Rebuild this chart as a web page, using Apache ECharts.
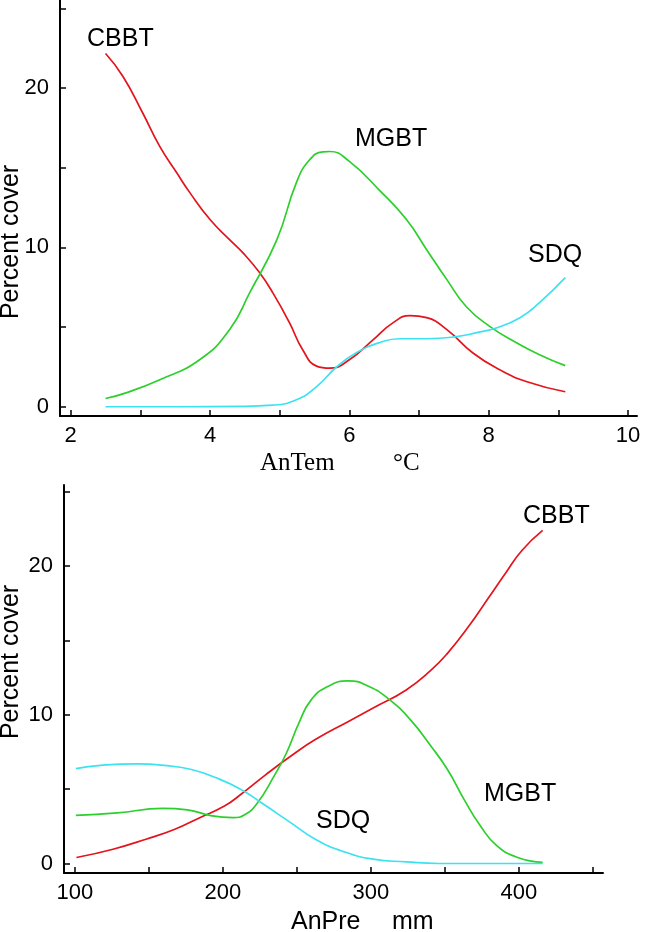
<!DOCTYPE html>
<html><head><meta charset="utf-8">
<script src="https://cdn.jsdelivr.net/npm/echarts@6/dist/echarts.min.js"></script>
<style>html,body{margin:0;padding:0;background:#fff}#c{width:650px;height:932px}</style>
</head><body><div id="c"></div>
<script>
// ---- Top panel: annual temperature (AnTem, °C) ----
const temCBBT_x = [2.50,2.75,3.03,3.28,3.52,3.71,4.00,4.28,4.47,4.71,4.90,5.14,5.33,5.53,5.72,6.00,6.34,6.63,6.87,7.11,7.40,7.77,8.16,8.55,9.10];
const temCBBT_y = [22.17,20.73,18.47,16.33,14.70,13.44,11.75,10.49,9.67,8.42,7.16,5.28,3.58,2.55,2.42,2.95,4.2,5.28,5.72,5.59,4.84,3.39,2.32,1.57,0.94];
const temMGBT_x = [2.50,2.77,3.28,3.85,4.28,4.57,4.96,5.24,5.43,5.62,5.72,6.00,6.43,6.82,7.11,7.40,7.68,8.02,8.40,8.73,9.10];
const temMGBT_y = [0.52,0.84,1.70,2.95,4.84,7.16,10.49,14.07,15.5,16.0,16.02,15.4,13.6,11.75,9.86,7.98,6.28,5.03,4.02,3.27,2.58];
const temSDQ_x = [2.50,3.5,4.43,4.90,5.24,5.53,5.82,6.10,6.43,6.72,7.11,7.54,7.83,8.12,8.45,8.73,9.10];
const temSDQ_y = [0,0,0.02,0.1,0.44,1.26,2.51,3.39,4.02,4.27,4.27,4.4,4.65,4.96,5.59,6.53,8.1];
const temTicks = [2,3,4,5,6,7,8,9,10];
const temLabels = [2,4,6,8,10];

// ---- Bottom panel: annual precipitation (AnPre, mm) ----
const preCBBT_x = [101,125.7,148,167.5,184.3,201,212,229,245.7,262.4,284.8,301.5,323.8,340.6,351.7,365.7,379.7,390.8,402,416];
const preCBBT_y = [0.4,0.96,1.63,2.3,3.08,3.86,4.64,5.98,7.21,8.33,9.55,10.45,11.67,13.0,14.13,15.9,17.9,19.5,21.05,22.4];
const preMGBT_x = [100.6,128.5,159.2,176,192.7,206.6,215,223.4,234.5,242.9,251.3,259.6,270.8,284.8,298.7,312.7,326.6,340.6,351.7,362.9,374,385.2,399.2,416];
const preMGBT_y = [3.24,3.4,3.7,3.6,3.2,3.08,3.3,4.08,5.87,7.43,9.44,11.0,11.9,12.28,11.9,11.0,9.67,7.88,6.32,4.31,2.52,1.18,0.4,0.07];
const preSDQ_x = [100.6,117.3,142.4,162,178.7,195.4,212.2,226,245.7,262.4,282,301.5,323.8,346,380,416];
const preSDQ_y = [6.38,6.6,6.7,6.58,6.32,5.76,4.98,4.08,2.75,1.63,0.78,0.29,0.11,0,0,0];
const preTicks = [100,150,200,250,300,350,400,450];
const preLabels = [100,200,300,400];

const yTicks = [0,5,10,15,20,25];
const yLabels = [0,10,20];

const RED = '#e3141c', GREEN = '#2ccf2c', CYAN = '#3be3f0';
const pairs = (xs, ys) => xs.map((x, i) => [x, ys[i]]);

const chart = echarts.init(document.getElementById('c'), null, {renderer: 'canvas'});
const SANS = 'Liberation Sans, Arial, sans-serif';
const SERIF = 'Liberation Serif, Times New Roman, serif';
const axisBase = {
  axisLine: {onZero: false, lineStyle: {color: '#000', width: 2}},
  splitLine: {show: false},
  axisLabel: {color: '#000', fontSize: 22, fontFamily: SANS},
  axisTick: {inside: true, length: 6, lineStyle: {color: '#000', width: 1.5}}
};
function xAx(grid, min, max, ticks, labels, margin) {
  return Object.assign({}, axisBase, {
    type: 'value', gridIndex: grid, min, max,
    axisTick: Object.assign({}, axisBase.axisTick, {customValues: ticks}),
    axisLabel: Object.assign({}, axisBase.axisLabel, {customValues: labels, margin})
  });
}
function yAx(grid, min, max, margin) {
  return Object.assign({}, axisBase, {
    type: 'value', gridIndex: grid, min, max,
    axisTick: Object.assign({}, axisBase.axisTick, {customValues: yTicks}),
    axisLabel: Object.assign({}, axisBase.axisLabel, {customValues: yLabels, margin})
  });
}
function line(name, data, color, idx) {
  return {name, type: 'line', xAxisIndex: idx, yAxisIndex: idx, data, smooth: 0.5,
    showSymbol: false, symbol: 'none', lineStyle: {color, width: 1.7}, animation: false};
}
function txt(t, x, y, size, font) {
  return {type: 'text', x, y, style: {text: t, fill: '#000', font: size + 'px ' + font, verticalAlign: 'middle', align: 'left'}};
}
chart.setOption({
  backgroundColor: '#fff',
  animation: false,
  grid: [
    {left: 60, top: 0, width: 577, height: 416},
    {left: 64, top: 485, width: 539, height: 388}
  ],
  xAxis: [
    xAx(0, 1.846, 10.13, temTicks, temLabels, 9),
    xAx(1, 92.6, 456.8, preTicks, preLabels, 9)
  ],
  yAxis: [
    yAx(0, -0.58, 25.53, 11),
    yAx(1, -0.64, 25.45, 11)
  ],
  series: [
    line('CBBT', pairs(temCBBT_x, temCBBT_y), RED, 0),
    line('MGBT', pairs(temMGBT_x, temMGBT_y), GREEN, 0),
    line('SDQ', pairs(temSDQ_x, temSDQ_y), CYAN, 0),
    line('CBBT', pairs(preCBBT_x, preCBBT_y), RED, 1),
    line('MGBT', pairs(preMGBT_x, preMGBT_y), GREEN, 1),
    line('SDQ', pairs(preSDQ_x, preSDQ_y), CYAN, 1)
  ],
  graphic: [
    txt('CBBT', 87, 39, 25, SANS),
    txt('MGBT', 355, 139, 25, SANS),
    txt('SDQ', 528, 255, 25, SANS),
    txt('CBBT', 523, 516, 25, SANS),
    txt('MGBT', 484, 794, 25, SANS),
    txt('SDQ', 316, 821, 25, SANS),
    txt('AnTem', 260, 463, 25, SERIF),
    txt('\u00b0C', 393, 463, 25, SERIF),
    txt('AnPre', 291, 922, 25, SANS),
    txt('mm', 392, 922, 25, SANS),
    {type: 'text', x: 11, y: 242, rotation: Math.PI / 2,
     style: {text: 'Percent cover', fill: '#000', font: '25px ' + SANS, align: 'center', verticalAlign: 'middle'}},
    {type: 'text', x: 11, y: 662, rotation: Math.PI / 2,
     style: {text: 'Percent cover', fill: '#000', font: '25px ' + SANS, align: 'center', verticalAlign: 'middle'}}
  ]
});
</script>
</body></html>
